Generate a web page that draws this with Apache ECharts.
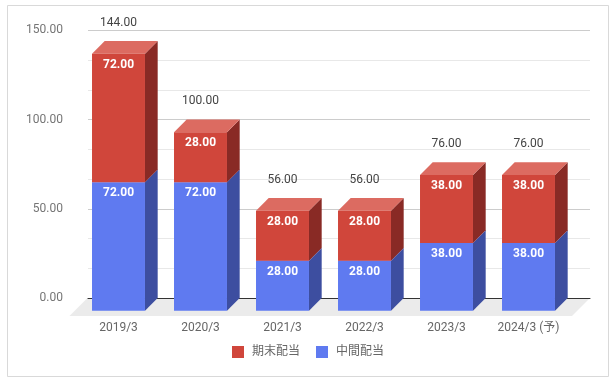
<!DOCTYPE html>
<html>
<head>
<meta charset="utf-8">
<script src="https://cdn.jsdelivr.net/npm/echarts@6/dist/echarts.min.js"></script>
<style>html,body{margin:0;padding:0;background:#fff;}#chart{width:615px;height:383px;}</style>
</head>
<body>
<div id="chart"></div>
<script>
// ---- data ----
const categories = ['2019/3', '2020/3', '2021/3', '2022/3', '2023/3', '2024/3 (予)'];
const interimDividend = [72, 72, 28, 28, 38, 38];   // 中間配当
const yearEndDividend = [72, 28, 28, 28, 38, 38];   // 期末配当
const totalDividend = [144, 100, 56, 56, 76, 76];
const yTicks = [0, 50, 100, 150];
const seriesNames = ['期末配当', '中間配当'];

// ---- style ----
const FONT = 'Roboto, "Noto Sans CJK JP", sans-serif';
const DEPTH = 12.7;
const BAR_RATIO = 0.646;
const colors = {
  red: { front: '#d0463b', top: '#dc6b61', side: '#892a25' },
  blue: { front: '#5f7af0', top: '#8c9ff4', side: '#3d4ea0' }
};

function boxRenderer(pal, showTotal) {
  return function (params, api) {
    const i = api.value(0);
    const base = api.value(1);
    const top = api.value(2);
    const segLabel = api.value(3);
    const pTop = api.coord([i, top]);
    const pBase = api.coord([i, base]);
    const w = api.size([1, 0])[0] * BAR_RATIO;
    const xl = pTop[0] - w / 2, xr = pTop[0] + w / 2;
    const ytB = pTop[1], ybB = pBase[1];
    const ytF = ytB + DEPTH, ybF = ybB + DEPTH;
    const children = [
      { type: 'polygon', shape: { points: [[xr, ytF], [xr + DEPTH, ytB], [xr + DEPTH, ybB], [xr, ybF]] }, style: { fill: pal.side } },
      { type: 'polygon', shape: { points: [[xl, ytF], [xr, ytF], [xr + DEPTH, ytB], [xl + DEPTH, ytB]] }, style: { fill: pal.top } },
      { type: 'rect', shape: { x: xl, y: ytF, width: w, height: ybF - ytF }, style: { fill: pal.front } },
      { type: 'text', x: pTop[0], y: ytF + 11, style: { text: Number(segLabel).toFixed(2), fill: '#ffffff', font: 'bold 12px ' + FONT, align: 'center', verticalAlign: 'middle' } }
    ];
    if (showTotal) {
      children.push({ type: 'text', x: pTop[0], y: ytB - 18.5, style: { text: Number(totalDividend[i]).toFixed(2), fill: '#444444', font: '12px ' + FONT, align: 'center', verticalAlign: 'middle' } });
    }
    return { type: 'group', children: children };
  };
}

const interimData = categories.map((c, i) => [i, 0, interimDividend[i], interimDividend[i]]);
const yearEndData = categories.map((c, i) => [i, interimDividend[i], interimDividend[i] + yearEndDividend[i], yearEndDividend[i]]);

const chart = echarts.init(document.getElementById('chart'), null, { renderer: 'canvas' });
chart.setOption({
  animation: false,
  backgroundColor: '#ffffff',
  textStyle: { fontFamily: FONT },
  graphic: {
    elements: [
      { type: 'rect', z: -20, shape: { x: 7.5, y: 5.5, width: 601, height: 371 }, style: { fill: '#ffffff', stroke: '#d9d9d9', lineWidth: 1 } },
      { type: 'polygon', z: -10, shape: { points: [[87.5, 298], [590, 298], [572, 316], [69.5, 316]] }, style: { fill: '#ebebeb' } }
    ]
  },
  grid: [
    { left: 88, right: 25, top: 30.3, height: 267.7 },
    { left: 77.5, right: 45.5, top: 30.3, height: 267.7 }
  ],
  xAxis: [
    { gridIndex: 0, type: 'value', min: 0, max: 1, axisLine: { show: true, onZero: false, lineStyle: { color: '#333333', width: 1 } }, axisTick: { show: false }, axisLabel: { show: false }, splitLine: { show: false } },
    { gridIndex: 1, type: 'category', data: categories, axisLine: { show: false }, axisTick: { show: false }, splitLine: { show: false },
      axisLabel: { color: '#666666', fontSize: 12, margin: 24, fontFamily: FONT } }
  ],
  yAxis: [
    { gridIndex: 0, type: 'value', min: yTicks[0], max: yTicks[yTicks.length - 1], interval: 50,
      axisLine: { show: false }, axisTick: { show: false },
      axisLabel: { color: '#757575', fontSize: 12, margin: 25, formatter: v => v.toFixed(2) },
      splitLine: { show: true, lineStyle: { color: '#cccccc', width: 1 } },
      minorTick: { show: false, splitNumber: 3 },
      minorSplitLine: { show: true, lineStyle: { color: '#e8e8e8', width: 1 } } },
    { gridIndex: 1, type: 'value', min: yTicks[0], max: yTicks[yTicks.length - 1], show: false, splitLine: { show: false } }
  ],
  legend: {
    data: seriesNames,
    left: 227, top: 341,
    itemWidth: 12, itemHeight: 12, itemGap: 16, icon: 'rect',
    textStyle: { color: '#666666', fontSize: 12, fontFamily: FONT, padding: [0, 0, 0, 3] }
  },
  series: [
    { name: seriesNames[1], type: 'custom', xAxisIndex: 1, yAxisIndex: 1, itemStyle: { color: colors.blue.front },
      renderItem: boxRenderer(colors.blue, false), data: interimData },
    { name: seriesNames[0], type: 'custom', xAxisIndex: 1, yAxisIndex: 1, itemStyle: { color: colors.red.front },
      renderItem: boxRenderer(colors.red, true), data: yearEndData }
  ]
});
</script>
</body>
</html>
